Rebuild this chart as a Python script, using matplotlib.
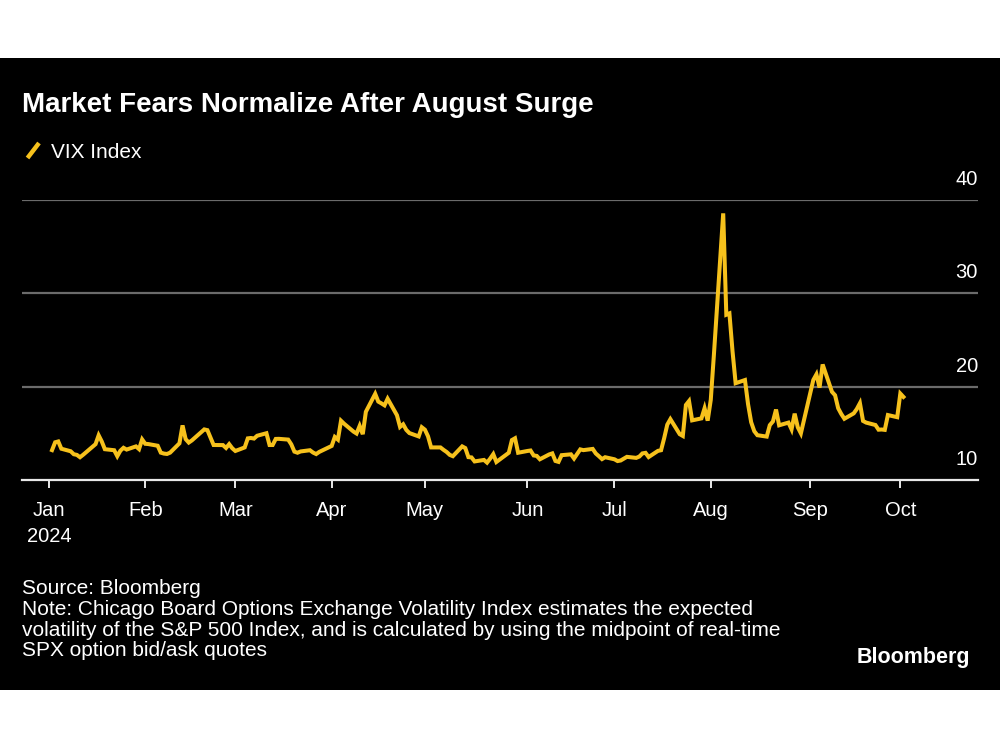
import pandas as pd
import matplotlib.pyplot as plt
from matplotlib.patches import Rectangle
from matplotlib.lines import Line2D

plt.rcParams['font.family'] = ['Liberation Sans', 'DejaVu Sans']

# VIX daily closes, 2 Jan 2024 - 2 Oct 2024 (trading days)
market_holidays = ['2024-01-01', '2024-01-15', '2024-02-19', '2024-03-29',
                   '2024-05-27', '2024-06-19', '2024-07-04', '2024-09-02']
start_date = '2024-01-02'

vix_jan = [13.20, 14.04, 14.13, 13.35, 13.08, 12.76, 12.69, 12.44, 12.70, 13.84, 14.79,
           14.13, 13.30, 13.19, 12.55, 13.14, 13.45, 13.26, 13.60, 13.31, 14.35]
vix_feb = [13.88, 13.85, 13.67, 12.93, 12.83, 12.79, 12.93, 13.93, 15.85, 14.38,
           14.01, 14.24, 15.42, 15.34, 14.54, 13.75, 13.74, 13.43, 13.84, 13.40]
vix_mar = [13.11, 13.49, 14.46, 14.50, 14.44, 14.74, 15.01, 13.75, 13.75, 14.40,
           14.41, 14.33, 13.82, 13.04, 12.92, 13.06, 13.19, 12.94, 12.78, 13.01]
vix_apr = [13.65, 14.61, 14.33, 16.35, 16.03, 15.19, 14.98, 15.80, 14.91, 17.31, 19.23,
           18.40, 18.21, 18.00, 18.71, 16.94, 15.69, 15.97, 15.37, 15.03, 14.67, 15.65]
vix_may = [15.39, 14.68, 13.49, 13.49, 13.23, 13.00, 12.69, 12.55, 13.60, 13.42, 12.45,
           12.42, 11.99, 12.15, 11.86, 12.29, 12.77, 11.93, 12.92, 14.28, 14.47, 12.92]
vix_jun = [13.11, 13.16, 12.63, 12.58, 12.22, 12.74, 12.85, 12.04, 11.94, 12.66,
           12.75, 12.30, 13.28, 13.20, 13.33, 12.84, 12.55, 12.24, 12.44]
vix_jul = [12.22, 12.03, 12.09, 12.48, 12.37, 12.51, 12.85, 12.91, 12.46, 13.12, 13.19,
           14.48, 15.93, 16.52, 14.91, 14.72, 18.04, 18.46, 16.39, 16.60, 17.69, 16.36]
vix_aug = [18.59, 23.39, 38.57, 27.71, 27.85, 23.79, 20.37, 20.71, 18.12, 16.19, 15.23,
           14.80, 14.65, 15.88, 16.27, 17.55, 15.86, 16.15, 15.43, 17.11, 15.65, 15.00]
vix_sep = [20.72, 21.32, 19.90, 22.38, 19.45, 19.08, 17.69, 17.07, 16.56, 17.14,
           17.61, 18.23, 16.33, 16.15, 15.89, 15.39, 15.41, 15.37, 16.96, 16.73]
vix_oct = [19.26, 18.90]

vix = (vix_jan + vix_feb + vix_mar + vix_apr + vix_may + vix_jun
       + vix_jul + vix_aug + vix_sep + vix_oct)
trading_day = pd.offsets.CustomBusinessDay(holidays=market_holidays)
dates = pd.date_range(start_date, periods=len(vix), freq=trading_day)

y_ticks = [10, 20, 30, 40]
# ticks sit on the first weekday of each month
month_ticks = pd.date_range('2024-01-01', '2024-10-01', freq='BMS')
month_labels = ['Jan\n2024', 'Feb', 'Mar', 'Apr', 'May', 'Jun', 'Jul', 'Aug', 'Sep', 'Oct']

bg = '#000000'
yellow = '#F6C11C'
grid_col = '#6b6b6b'

fig = plt.figure(figsize=(10, 7.5), dpi=100, facecolor='white')
fig.patches.append(Rectangle((0, 1 - 690 / 750), 1, (690 - 58) / 750,
                             transform=fig.transFigure, facecolor=bg, edgecolor='none',
                             zorder=-10))

ax = fig.add_axes([0.022, 1 - 480 / 750, 0.956, 280 / 750])
ax.set_facecolor('none')
ax.set_zorder(2)
ax.plot(dates, vix, color=yellow, lw=2.9, solid_joinstyle='miter', clip_on=False, zorder=3)

ax.set_ylim(10, 40)
ax.set_xlim(pd.Timestamp('2023-12-23 08:00'), pd.Timestamp('2024-10-26'))

for s in ['top', 'right', 'left']:
    ax.spines[s].set_visible(False)
ax.spines['bottom'].set_color('#e8e8e8')
ax.spines['bottom'].set_linewidth(1.6)

for v in y_ticks[1:]:
    ax.axhline(v, color=grid_col, lw=1.6, zorder=1)
ax.set_yticks([])
for v in y_ticks:
    ax.annotate(str(v), xy=(1.0, v), xycoords=ax.get_yaxis_transform(),
                xytext=(0, 11), textcoords='offset pixels',
                ha='right', va='bottom', color='white', fontsize=14.5)

ax.set_xticks(month_ticks)
ax.set_xticklabels(month_labels, linespacing=1.45)
ax.tick_params(axis='x', colors='#e8e8e8', length=6, width=1.4, direction='out',
               pad=9, labelsize=14.5, labelcolor='white')

fig.text(0.022, 1 - 105 / 750, 'Market Fears Normalize After August Surge',
         color='white', fontsize=20, fontweight='bold', va='center', ha='left')

fig.add_artist(Line2D([0.0275, 0.039], [1 - 158 / 750, 1 - 143 / 750],
                      transform=fig.transFigure, color=yellow, lw=3.2, solid_capstyle='butt'))
fig.text(0.051, 1 - 153 / 750, 'VIX Index', color='white', fontsize=15,
         va='center', ha='left')

note = ('Source: Bloomberg\n'
        'Note: Chicago Board Options Exchange Volatility Index estimates the expected\n'
        'volatility of the S&P 500 Index, and is calculated by using the midpoint of real-time\n'
        'SPX option bid/ask quotes')
fig.text(0.022, 1 - 579 / 750, note, color='white', fontsize=15, va='top', ha='left',
         linespacing=1.12)
fig.text(0.970, 1 - 657 / 750, 'Bloomberg', color='white', fontsize=15.5,
         fontweight='bold', va='center', ha='right')

fig.savefig('out.png', dpi=100, facecolor='white')
